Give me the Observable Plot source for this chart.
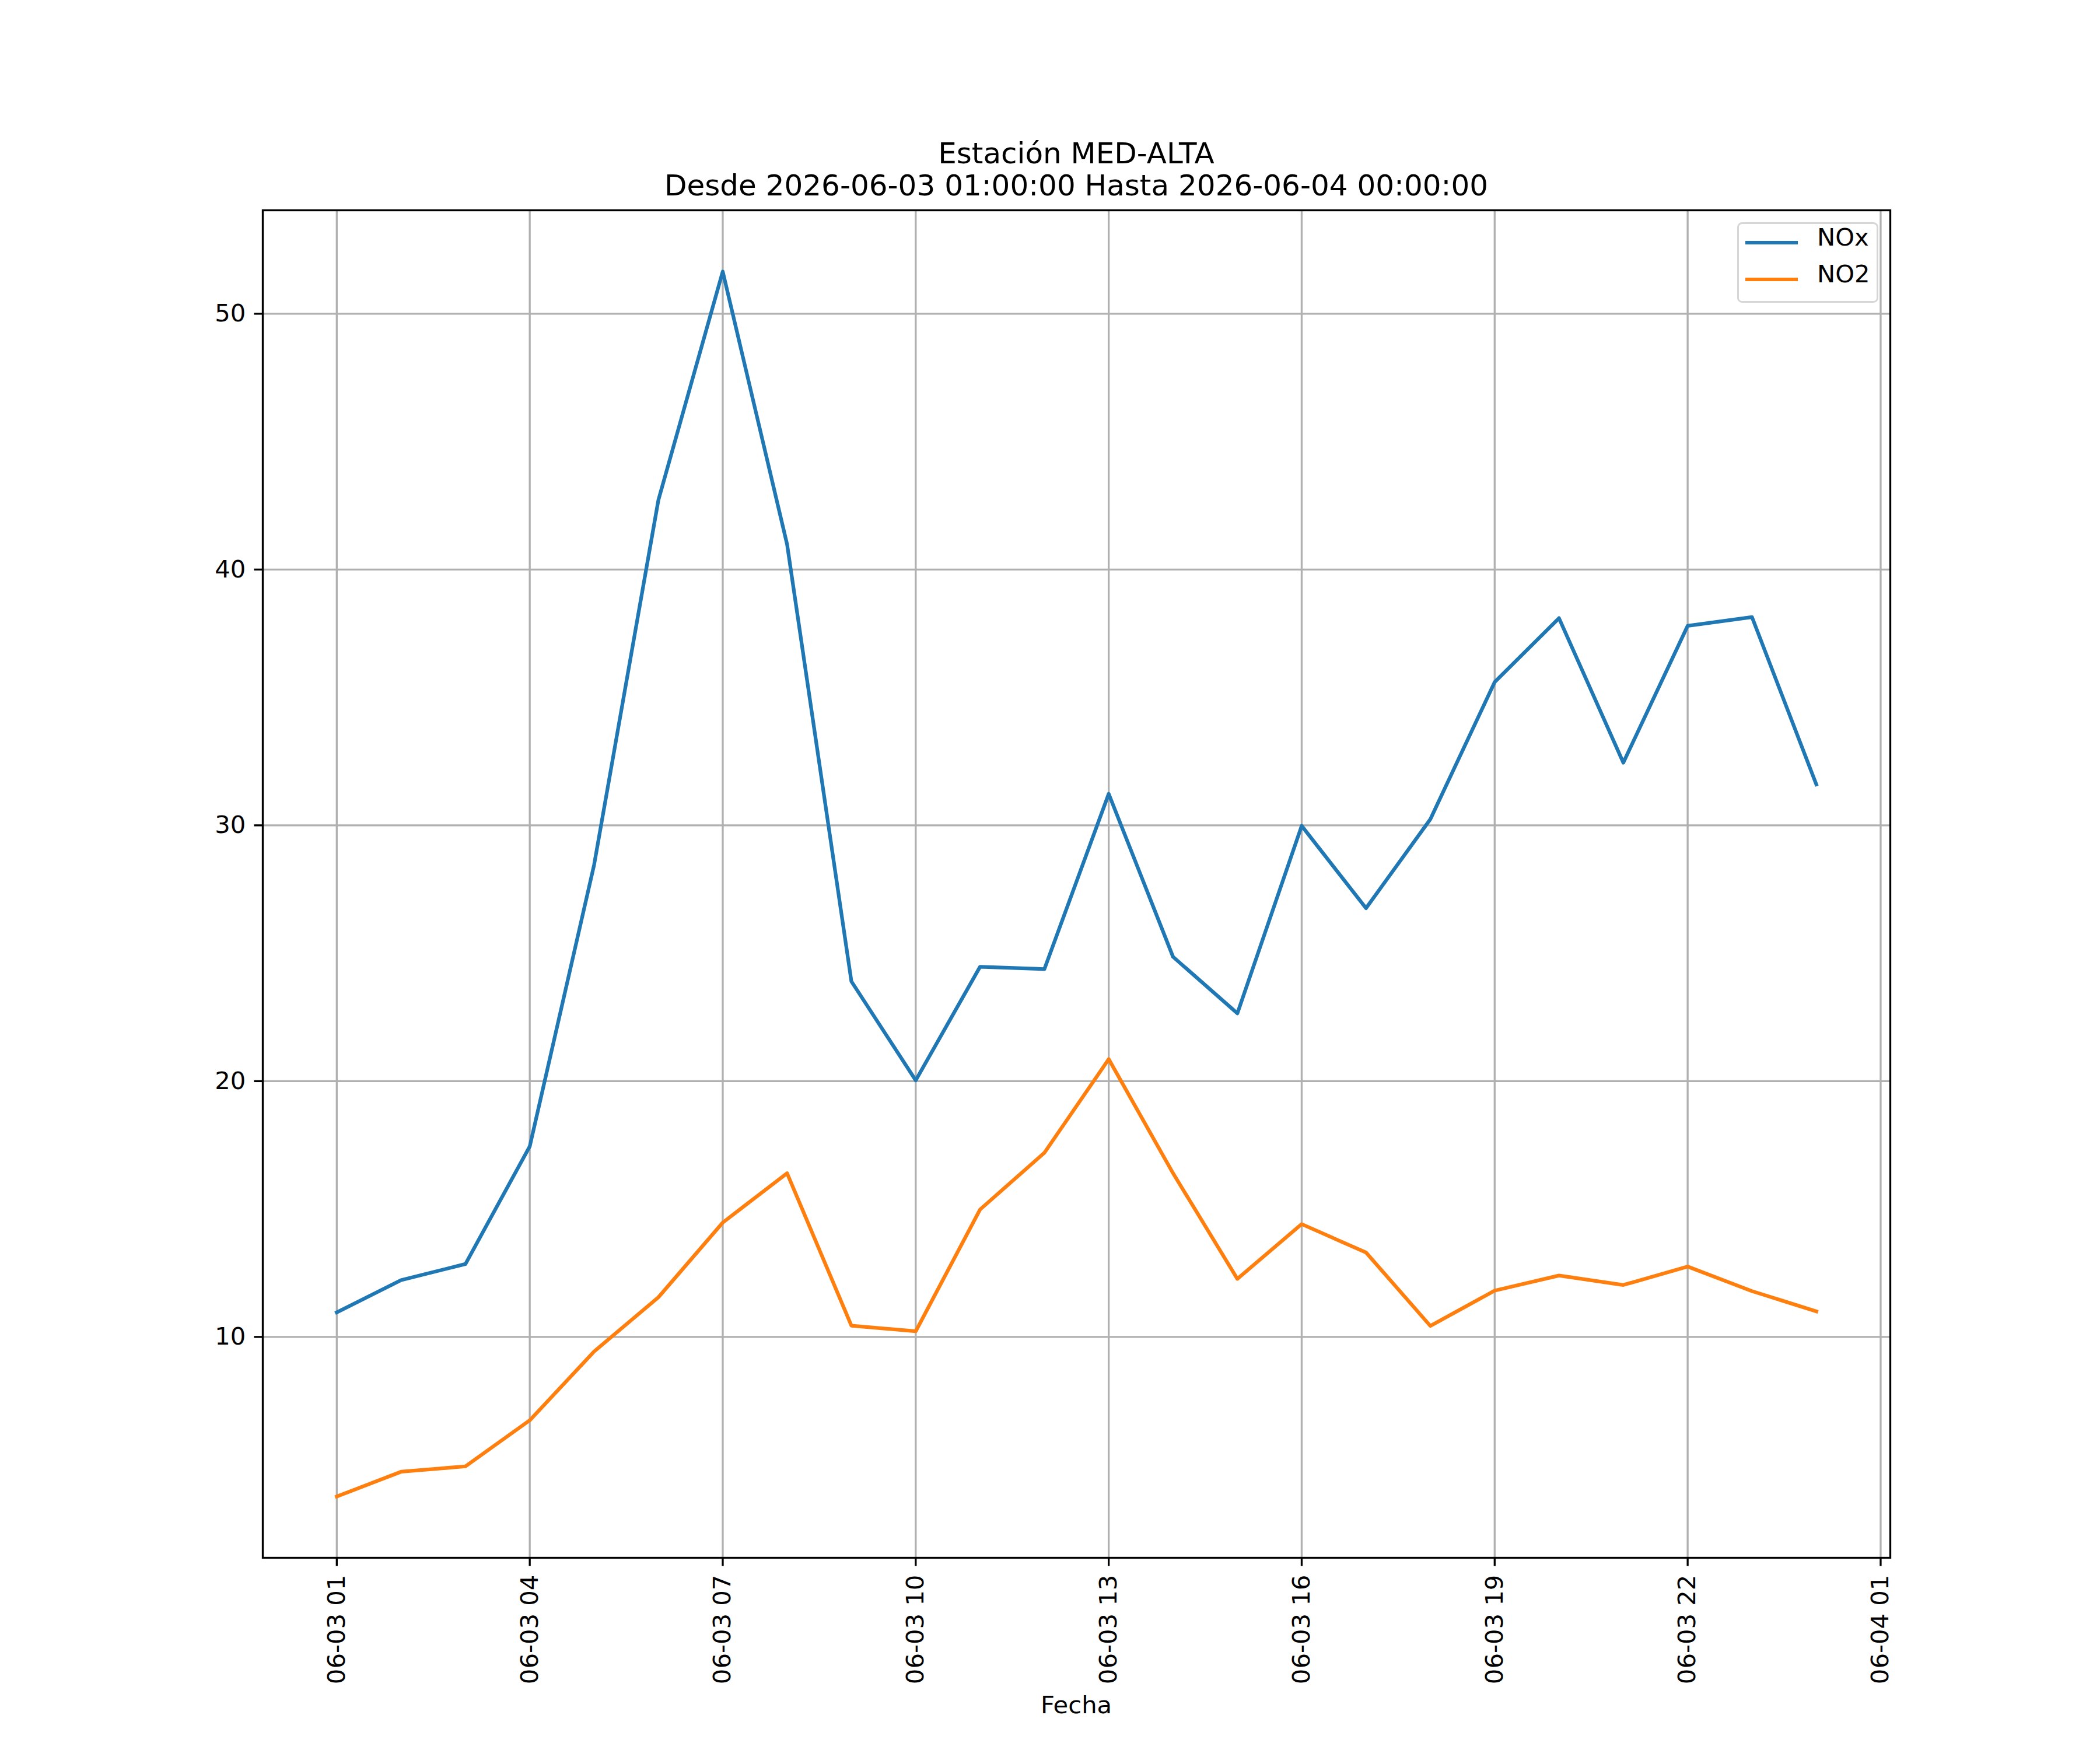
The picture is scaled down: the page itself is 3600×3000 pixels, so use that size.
<!DOCTYPE html>
<html>
<head>
<meta charset="utf-8">
<script src="https://cdn.jsdelivr.net/npm/d3@7"></script>
<script src="https://cdn.jsdelivr.net/npm/@observablehq/plot@0.6"></script>
<style>
  html, body { margin: 0; padding: 0; background: #ffffff; }
  #wrap { position: relative; width: 3600px; height: 3000px; background: #ffffff; font-family: "DejaVu Sans", sans-serif; color: #000; }
  .txt { position: absolute; white-space: nowrap; }
  .center { transform: translateX(-50%); }
</style>
</head>
<body>
<div id="wrap">
  <div class="txt center" id="t1" style="left:1845px; top:237.7px; font-size:50px; line-height:50px;"></div>
  <div class="txt center" id="t2" style="left:1845px; top:292.7px; font-size:50px; line-height:50px;"></div>
  <div class="txt center" id="xlab" style="left:1845px; top:2901.7px; font-size:41.7px; line-height:41.7px;"></div>
  <div id="legend" style="position:absolute; left:2978px; top:381px; width:242px; height:138px; box-sizing:border-box; border:3.3px solid #d6d6d6; border-radius:8.3px; background:rgba(255,255,255,0.8);"></div>
</div>
<script>
// ---- data ----
const titleLine1 = "Estación MED-ALTA";
const titleLine2 = "Desde 2026-06-03 01:00:00 Hasta 2026-06-04 00:00:00";
const xLabel = "Fecha";
const seriesNames = ["NOx", "NO2"];
const seriesColors = ["#1f77b4", "#ff7f0e"];

const times = [
  "2026-06-03 01:00", "2026-06-03 02:00", "2026-06-03 03:00", "2026-06-03 04:00",
  "2026-06-03 05:00", "2026-06-03 06:00", "2026-06-03 07:00", "2026-06-03 08:00",
  "2026-06-03 09:00", "2026-06-03 10:00", "2026-06-03 11:00", "2026-06-03 12:00",
  "2026-06-03 13:00", "2026-06-03 14:00", "2026-06-03 15:00", "2026-06-03 16:00",
  "2026-06-03 17:00", "2026-06-03 18:00", "2026-06-03 19:00", "2026-06-03 20:00",
  "2026-06-03 21:00", "2026-06-03 22:00", "2026-06-03 23:00", "2026-06-04 00:00"
];
const nox = [10.96, 12.22, 12.85, 17.45, 28.45, 42.72, 51.65, 40.99, 23.90, 20.03, 24.47, 24.38,
             31.23, 24.86, 22.65, 29.98, 26.76, 30.24, 35.60, 38.10, 32.45, 37.80, 38.14, 31.60];
const no2 = [3.76, 4.73, 4.94, 6.74, 9.43, 11.55, 14.47, 16.40, 10.44, 10.22, 14.98, 17.20,
             20.86, 16.40, 12.27, 14.41, 13.30, 10.43, 11.81, 12.40, 12.03, 12.75, 11.79, 11.00];

const xTickTimes = [
  "2026-06-03 01:00", "2026-06-03 04:00", "2026-06-03 07:00", "2026-06-03 10:00",
  "2026-06-03 13:00", "2026-06-03 16:00", "2026-06-03 19:00", "2026-06-03 22:00",
  "2026-06-04 01:00"
];
const yTicks = [10, 20, 30, 40, 50];

// ---- build ----
const parse = d3.utcParse("%Y-%m-%d %H:%M");
const dates = times.map(parse);
const xTicks = xTickTimes.map(parse);
const rows = [];
dates.forEach((d, i) => {
  rows.push({t: d, v: nox[i], s: seriesNames[0]});
  rows.push({t: d, v: no2[i], s: seriesNames[1]});
});
const allV = nox.concat(no2);
const vMin = d3.min(allV), vMax = d3.max(allV);
const vPad = (vMax - vMin) * 0.05;
const t0 = +dates[0], t1 = +dates[dates.length - 1];
const tPad = (t1 - t0) * 0.05;

const LW = 3.33;   // 0.8pt
const TICK = 14.6; // 3.5pt
const FS = 41.7;   // 10pt

const chart = Plot.plot({
  width: 3600,
  height: 3000,
  marginLeft: 450,
  marginRight: 360,
  marginTop: 360,
  marginBottom: 330,
  style: {fontFamily: "DejaVu Sans, sans-serif", fontSize: FS + "px", background: "transparent", color: "#000"},
  x: {type: "utc", domain: [new Date(t0 - tPad), new Date(t1 + tPad)]},
  y: {domain: [vMin - vPad, vMax + vPad]},
  color: {domain: seriesNames, range: seriesColors},
  marks: [
    Plot.gridX(xTicks, {stroke: "#b0b0b0", strokeOpacity: 1, strokeWidth: LW}),
    Plot.gridY(yTicks, {stroke: "#b0b0b0", strokeOpacity: 1, strokeWidth: LW}),
    Plot.line(rows, {x: "t", y: "v", z: "s", stroke: "s", strokeWidth: 6.25, strokeLinejoin: "round", strokeLinecap: "square"}),
    Plot.frame({stroke: "#000", strokeWidth: LW}),
    Plot.axisX({ticks: xTicks, tickFormat: d3.utcFormat("%m-%d %H"), tickRotate: -90,
                tickSize: TICK, tickPadding: TICK, fontSize: FS, label: null,
                stroke: "#000", strokeWidth: LW, fill: "#000"}),
    Plot.axisY({ticks: yTicks, tickFormat: d => String(d), tickSize: TICK, tickPadding: TICK,
                fontSize: FS, label: null, stroke: "#000", strokeWidth: LW, fill: "#000"})
  ]
});
chart.style.position = "absolute";
chart.style.left = "0px";
chart.style.top = "0px";
const wrap = document.getElementById("wrap");
wrap.insertBefore(chart, wrap.firstChild);

document.getElementById("t1").textContent = titleLine1;
document.getElementById("t2").textContent = titleLine2;
document.getElementById("xlab").textContent = xLabel;

// legend entries
const legendTops = [385.7, 448.7];
const legendLineY = [415.7, 478.7];
seriesNames.forEach((name, i) => {
  const ln = document.createElement("div");
  ln.style.cssText = `position:absolute; left:2992px; top:${legendLineY[i] - 3.1}px; width:90px; height:6.25px; background:${seriesColors[i]};`;
  wrap.appendChild(ln);
  const tx = document.createElement("div");
  tx.className = "txt";
  tx.style.cssText += `left:3115px; top:${legendTops[i]}px; font-size:${FS}px; line-height:${FS}px;`;
  tx.textContent = name;
  wrap.appendChild(tx);
});
</script>
</body>
</html>
